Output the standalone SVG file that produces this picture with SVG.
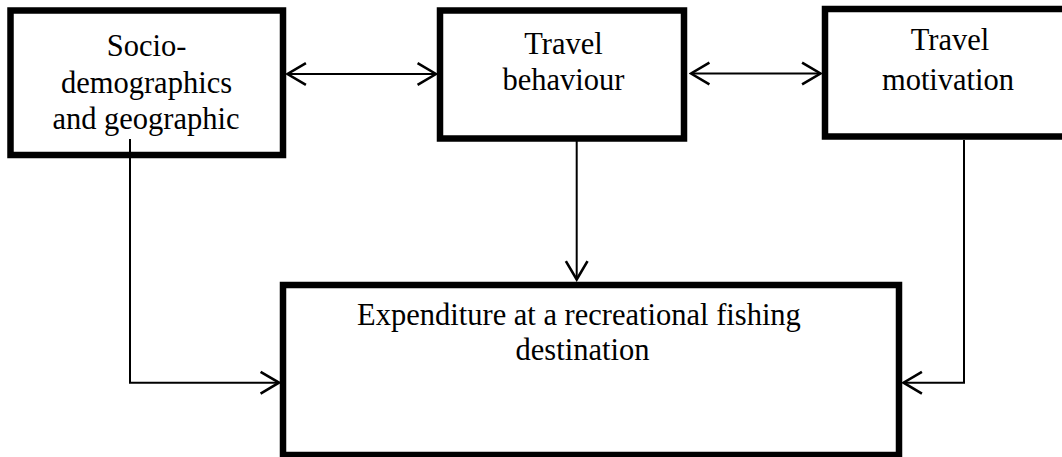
<svg xmlns="http://www.w3.org/2000/svg" width="1062" height="457" viewBox="0 0 1062 457">
  <style>
    .box { fill: #ffffff; stroke: #000000; stroke-width: 6.5; }
    .label { font-family: "Liberation Serif", "Times New Roman", serif; font-size: 30.5px; fill: #000000; text-anchor: middle; }
    .conn { fill: none; stroke: #000000; stroke-width: 2; }
  </style>
  <defs>
    <marker id="head" markerUnits="userSpaceOnUse" markerWidth="24" markerHeight="26" viewBox="-20 -12 22 24" refX="0" refY="0" orient="auto-start-reverse">
      <path d="M-17,-10 L0,0 L-17,10" fill="none" stroke="#000000" stroke-width="2.4"/>
    </marker>
  </defs>
  <rect width="1062" height="457" fill="#ffffff"/>

  <g id="node-socio">
    <rect class="box" x="10.5" y="10.5" width="272.5" height="144.5"/>
    <text class="label" x="146.5" y="55.5">Socio-</text>
    <text class="label" x="146.5" y="92.5">demographics</text>
    <text class="label" x="146" y="128.5">and geographic</text>
  </g>

  <g id="node-behaviour">
    <rect class="box" x="440" y="10.5" width="244" height="128"/>
    <text class="label" x="563.5" y="53.5">Travel</text>
    <text class="label" x="563.5" y="90">behaviour</text>
  </g>

  <g id="node-motivation">
    <rect class="box" x="825" y="9" width="250" height="127.5"/>
    <text class="label" x="950" y="50">Travel</text>
    <text class="label" x="948" y="89.5">motivation</text>
  </g>

  <g id="node-expenditure">
    <rect class="box" x="283" y="285" width="616" height="170"/>
    <text class="label" x="579" y="325">Expenditure at a recreational fishing</text>
    <text class="label" x="582.5" y="360">destination</text>
  </g>

  <g id="connectors">
    <!-- two-way links between the top row -->
    <line class="conn" x1="287.5" y1="74" x2="436" y2="74" marker-start="url(#head)" marker-end="url(#head)"/>
    <line class="conn" x1="691" y1="73.5" x2="820.5" y2="73.5" marker-start="url(#head)" marker-end="url(#head)"/>
    <!-- links into the expenditure box -->
    <line class="conn" x1="576.7" y1="141" x2="576.7" y2="279.5" marker-end="url(#head)"/>
    <polyline class="conn" points="130,139 130,382.7 279,382.7" marker-end="url(#head)"/>
    <polyline class="conn" points="964,140 964,382.7 903.5,382.7" marker-end="url(#head)"/>
  </g>
</svg>
